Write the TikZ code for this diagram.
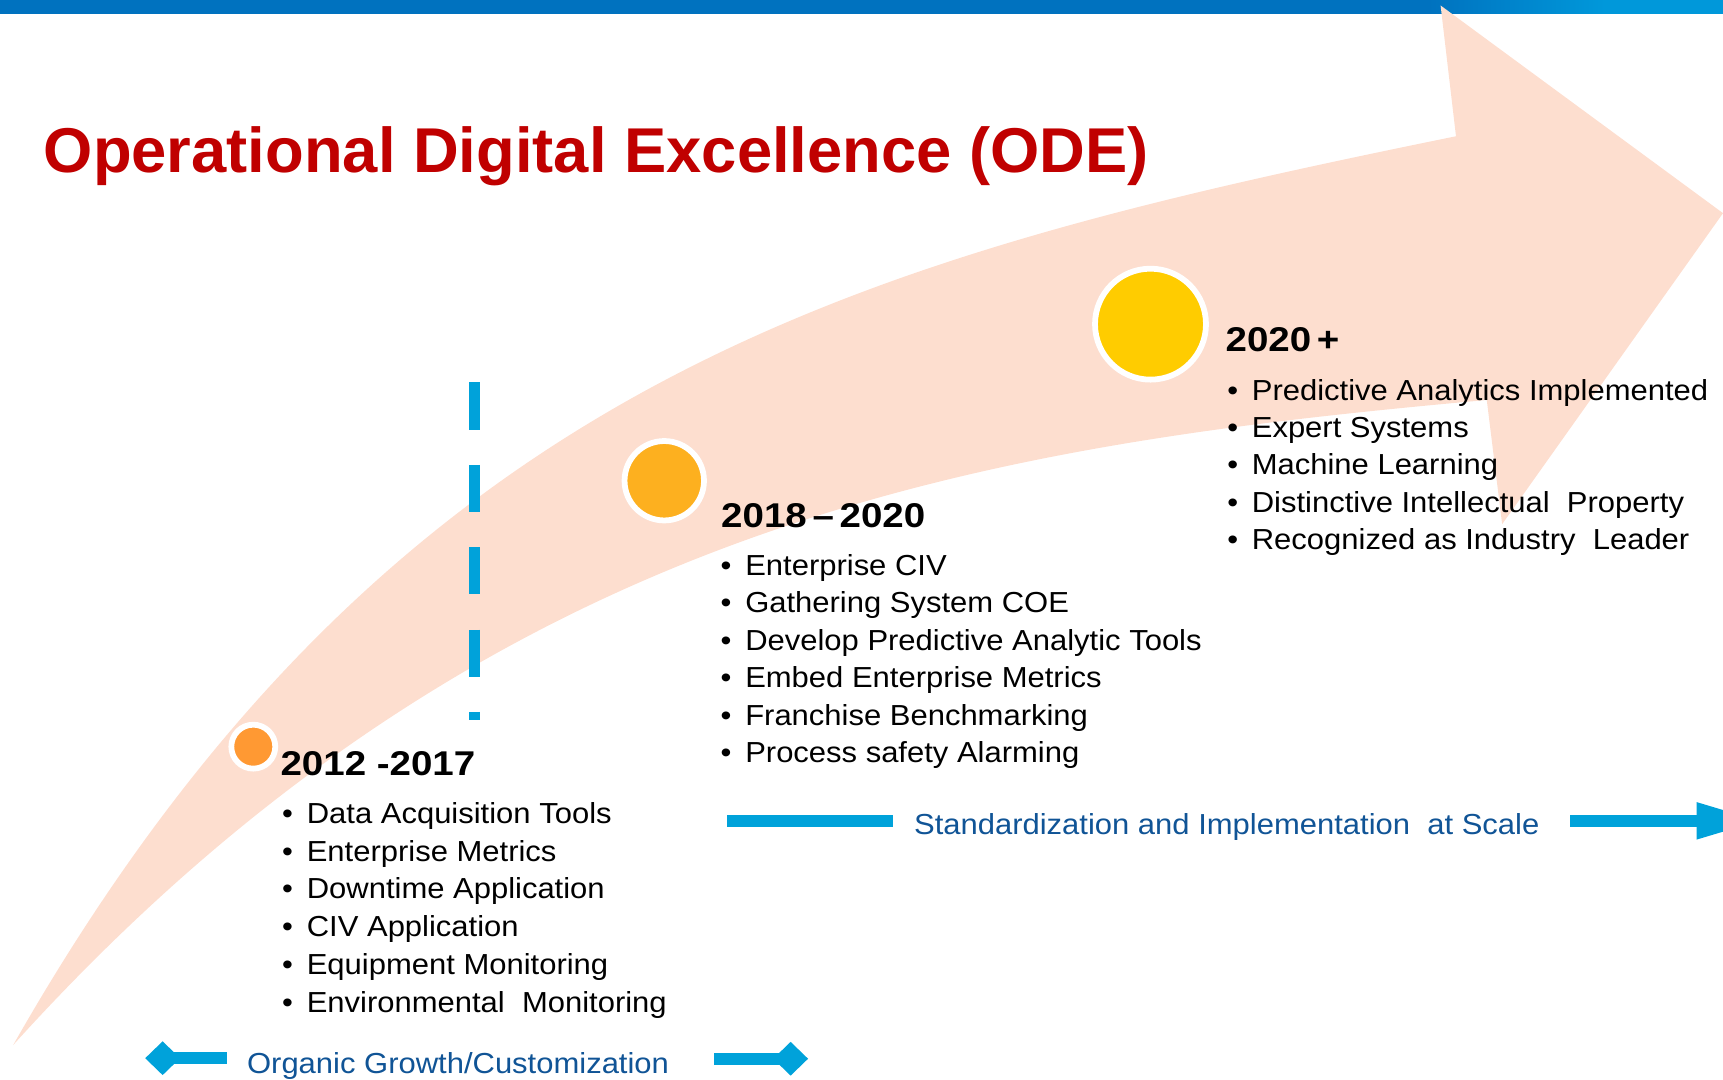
\documentclass[tikz,border=0pt]{standalone}
\usepackage{fontspec}
\setmainfont{Liberation Sans}
\newfontfamily\yearfont{Liberation Sans}[FakeStretch=1.12]
\newfontfamily\bodyfont{Liberation Sans}[FakeStretch=1.07]
\usetikzlibrary{arrows.meta,shapes.geometric}
\definecolor{odered}{RGB}{192,0,0}
\definecolor{peach}{RGB}{253,222,207}
\definecolor{cyanbar}{RGB}{0,162,218}
\definecolor{capblue}{RGB}{16,84,150}
\definecolor{topblue}{RGB}{0,114,191}
\definecolor{toplight}{RGB}{0,152,218}
\definecolor{dotorange}{RGB}{255,153,51}
\definecolor{dotamber}{RGB}{253,176,31}
\definecolor{dotyellow}{RGB}{255,204,0}
\tikzstyle{dot}=[circle,draw=white,line width=0.105cm,inner sep=0pt]
\tikzstyle{year}=[anchor=base west,inner sep=0pt,font=\yearfont\bfseries\fontsize{17.8}{21}\selectfont]
\tikzstyle{item}=[anchor=base west,inner sep=0pt,font=\bodyfont\fontsize{15}{18}\selectfont]
\tikzstyle{caption}=[item,text=capblue]
\tikzstyle{bar}=[cyanbar,line width=0.22cm]
\tikzstyle{dmd}=[diamond,fill=cyanbar,inner sep=0pt,minimum width=0.64cm,minimum height=0.62cm]
\newcommand{\bul}{\textbullet\hspace{0.25cm}}

\begin{document}
\begin{tikzpicture}[x=0.02cm, y=-0.02cm]
\useasboundingbox (0, 0) rectangle (1568, 982);
\clip (0, 0) rectangle (1568, 982);
% top band
\fill[topblue] (0, 0) rectangle (1568, 12.7);
\shade[left color=topblue, right color=toplight] (1300, 0) rectangle (1460, 12.7);
\fill[toplight] (1459, 0) rectangle (1568, 12.7);
% growth arrow
\fill[peach] (12, 951) .. controls (358, 343) and (786, 234) .. (1325, 124) -- (1311, 5) -- (1568, 194) -- (1367, 477) -- (1353, 364) .. controls (900, 405) and (447, 470) .. (12, 951) -- cycle;
\node[anchor=base west, inner sep=0pt, text=odered, font=\bfseries\fontsize{32.8}{39}\selectfont] at (39.5, 157) (title) {Operational Digital Excellence (ODE)};
% divider
\coordinate (divtop) at (432, 348);
\coordinate (divbot) at (432, 655);
\draw[cyanbar, line width=0.2cm, dash pattern=on 0.86cm off 0.64cm] (divtop) -- (divbot);
% milestones
\node[dot, fill=dotorange, minimum size=0.8cm] at (230.5, 679.5) (d1) {};
\node[dot, fill=dotamber, minimum size=1.446cm] at (604.5, 437.5) (d2) {};
\node[dot, fill=dotyellow, minimum size=2.02cm] at (1047, 295) (d3) {};
\node[year] at (255, 706) (y1) {2012 -2017};
\node[year] at (656, 480) (y2) {2018\,–\,2020};
\node[year] at (1115, 320) (y3) {2020\,+};
\node[item] at (256.5, 749.5) (a1) {\bul Data Acquisition Tools};
\node[item] at (256.5, 783.8) (a2) {\bul Enterprise Metrics};
\node[item] at (256.5, 818.1) (a3) {\bul Downtime Application};
\node[item] at (256.5, 852.4) (a4) {\bul CIV Application};
\node[item] at (256.5, 886.7) (a5) {\bul Equipment Monitoring};
\node[item] at (256.5, 921) (a6) {\bul Environmental~ Monitoring};
\node[item] at (655.5, 523.8) (b1) {\bul Enterprise CIV};
\node[item] at (655.5, 557.8) (b2) {\bul Gathering System COE};
\node[item] at (655.5, 591.8) (b3) {\bul Develop Predictive Analytic Tools};
\node[item] at (655.5, 625.8) (b4) {\bul Embed Enterprise Metrics};
\node[item] at (655.5, 659.8) (b5) {\bul Franchise Benchmarking};
\node[item] at (655.5, 693.8) (b6) {\bul Process safety Alarming};
\node[item] at (1116.5, 364.6) (c1) {\bul Predictive Analytics Implemented};
\node[item] at (1116.5, 398.4) (c2) {\bul Expert Systems};
\node[item] at (1116.5, 432.2) (c3) {\bul Machine Learning};
\node[item] at (1116.5, 466) (c4) {\bul Distinctive Intellectual~ Property};
\node[item] at (1116.5, 499.8) (c5) {\bul Recognized as Industry~ Leader};
% phases
\node[caption] at (224.5, 976.6) (org) {Organic Growth/Customization};
\node[caption] at (831.5, 759) (std) {Standardization and Implementation~ at Scale};
\coordinate (orgl) at (207, 963);
\coordinate (orgr) at (650, 963.5);
\node[dmd] at (148, 963) (dl) {};
\node[dmd] at (719.5, 963.5) (dr) {};
\draw[bar] (dl.center) -- (orgl);
\draw[bar] (orgr) -- (dr.center);
\coordinate (stda) at (662, 747);
\coordinate (stdb) at (813, 747);
\coordinate (stdc) at (1429, 747);
\coordinate (stdd) at (1604, 747);
\draw[bar] (stda) -- (stdb);
\draw[bar, -{Triangle[length=1.2cm, width=0.61cm]}] (stdc) -- (stdd);
\end{tikzpicture}
\end{document}
